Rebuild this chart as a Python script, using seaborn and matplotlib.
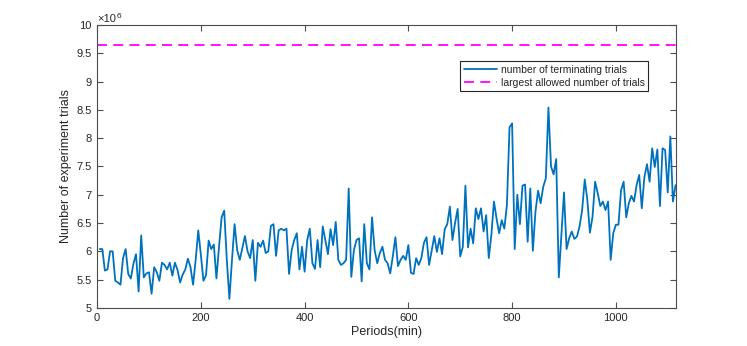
import numpy as np
import pandas as pd
import matplotlib
matplotlib.use("Agg")
import matplotlib.pyplot as plt
import seaborn as sns

# ---- data (values in units of 10^6 trials) ----
periods = list(range(5, 1116, 5))
terminating_trials = [
    # 5 .. 185
    6.04, 6.04, 5.66, 5.68, 6.00, 6.00, 5.48, 5.45, 5.41, 5.88,
    6.04, 5.60, 5.52, 5.78, 5.95, 5.29, 6.28, 5.54, 5.61, 5.63,
    5.25, 5.72, 5.63, 5.48, 5.80, 5.76, 5.68, 5.80, 5.57, 5.80,
    5.67, 5.45, 5.59, 5.68, 5.87, 5.72, 5.41,
    # 190 .. 370
    5.85, 6.37, 5.94, 5.48, 5.58, 6.19, 6.04, 6.12, 5.52, 6.08,
    6.60, 6.72, 5.85, 5.16, 5.85, 6.48, 6.02, 5.85, 6.06, 6.27,
    6.00, 5.88, 6.20, 5.48, 6.15, 6.08, 6.19, 5.97, 6.00, 6.45,
    6.48, 5.92, 6.37, 6.40, 6.37, 6.40, 5.60,
    # 375 .. 555
    6.02, 6.20, 6.32, 5.68, 6.08, 5.64, 6.20, 6.40, 5.79, 5.69,
    6.20, 5.72, 6.44, 6.20, 5.95, 6.39, 6.11, 6.52, 5.85, 5.76,
    5.79, 5.85, 7.11, 5.55, 6.02, 6.20, 6.23, 5.47, 6.48, 5.79,
    5.68, 6.60, 6.02, 5.79, 5.97, 6.08, 5.85,
    # 560 .. 735
    5.79, 5.61, 5.91, 6.25, 5.74, 5.85, 5.92, 5.85, 6.11, 5.62,
    5.60, 5.88, 5.76, 5.88, 6.15, 6.25, 5.76, 6.02, 6.27, 5.99,
    6.23, 5.95, 6.39, 6.48, 6.79, 6.20, 6.50, 6.75, 5.91, 6.08,
    7.16, 6.07, 6.40, 6.14, 6.76, 6.57,
    # 740 .. 920
    6.76, 6.35, 6.64, 5.88, 6.29, 6.88, 6.58, 6.32, 6.55, 6.40,
    6.82, 8.19, 8.26, 6.04, 7.00, 6.48, 7.16, 7.18, 6.17, 7.11,
    6.01, 6.70, 7.07, 6.85, 7.14, 7.29, 8.54, 7.50, 7.36, 7.63,
    5.54, 6.29, 7.04, 6.04, 6.23, 6.35, 6.22,
    # 925 .. 1115
    6.26, 6.44, 6.73, 7.27, 6.91, 6.33, 6.61, 7.23, 7.03, 6.80,
    6.88, 6.73, 6.88, 5.85, 6.32, 6.47, 6.47, 7.08, 7.23, 6.60,
    6.85, 6.98, 6.88, 7.17, 7.35, 6.76, 7.31, 7.54, 7.23, 7.82,
    7.49, 7.80, 6.80, 7.82, 7.79, 7.04, 8.03, 6.88, 7.17,
]
largest_allowed = 9.64
series_names = ["number of terminating trials", "largest allowed number of trials"]
x_ticks = [0, 200, 400, 600, 800, 1000]
y_ticks = [5, 5.5, 6, 6.5, 7, 7.5, 8, 8.5, 9, 9.5, 10]
y_tick_labels = ["5", "5.5", "6", "6.5", "7", "7.5", "8", "8.5", "9", "9.5", "10"]

assert len(periods) == len(terminating_trials)

df = pd.DataFrame({"Periods": periods, "Trials": terminating_trials})
df_lim = pd.DataFrame({"Periods": [0, 1116], "Trials": [largest_allowed] * 2})

sns.set_theme(style="white")
plt.rcParams["font.family"] = ["Liberation Sans", "DejaVu Sans"]

fig = plt.figure(figsize=(7.47, 3.46), dpi=100)
ax = fig.add_axes([0.130, 0.110, 0.775, 0.818])

blue = "#0072BD"
sns.lineplot(data=df, x="Periods", y="Trials", ax=ax, color=blue, linewidth=1.3,
             label=series_names[0])
sns.lineplot(data=df_lim, x="Periods", y="Trials", ax=ax, color="#FF00FF",
             linewidth=1.3, linestyle=(0, (5.5, 3.5)), label=series_names[1])

ax.set_xlim(0, 1116)
ax.set_ylim(5, 10)
ax.set_xticks(x_ticks)
ax.set_xticklabels([str(t) for t in x_ticks])
ax.set_yticks(y_ticks)
ax.set_yticklabels(y_tick_labels)

axis_col = "#4d4d4d"
for s in ax.spines.values():
    s.set_visible(True)
    s.set_color(axis_col)
    s.set_linewidth(0.8)
ax.tick_params(direction="in", length=4, width=0.8, colors=axis_col,
               labelcolor="#262626", labelsize=8, top=True, right=True,
               bottom=True, left=True, pad=4)

ax.set_xlabel("Periods(min)", fontsize=9, color="#262626", labelpad=2)
ax.set_ylabel("Number of experiment trials", fontsize=9, color="#262626", labelpad=3)

ax.text(0.0, 1.002, "\u00d710", transform=ax.transAxes, fontsize=8,
        color="#262626", ha="left", va="bottom")
ax.text(0.034, 1.018, "6", transform=ax.transAxes, fontsize=6,
        color="#262626", ha="left", va="bottom")

leg = ax.legend(loc="upper right", bbox_to_anchor=(0.952, 0.873), fontsize=7.5,
                frameon=True, fancybox=False, framealpha=1, borderpad=0.35,
                handlelength=3.2, handletextpad=0.3, labelspacing=0.3,
                borderaxespad=0)
leg.get_frame().set_edgecolor("#262626")
leg.get_frame().set_linewidth(0.8)

fig.savefig("out.png", dpi=100)
